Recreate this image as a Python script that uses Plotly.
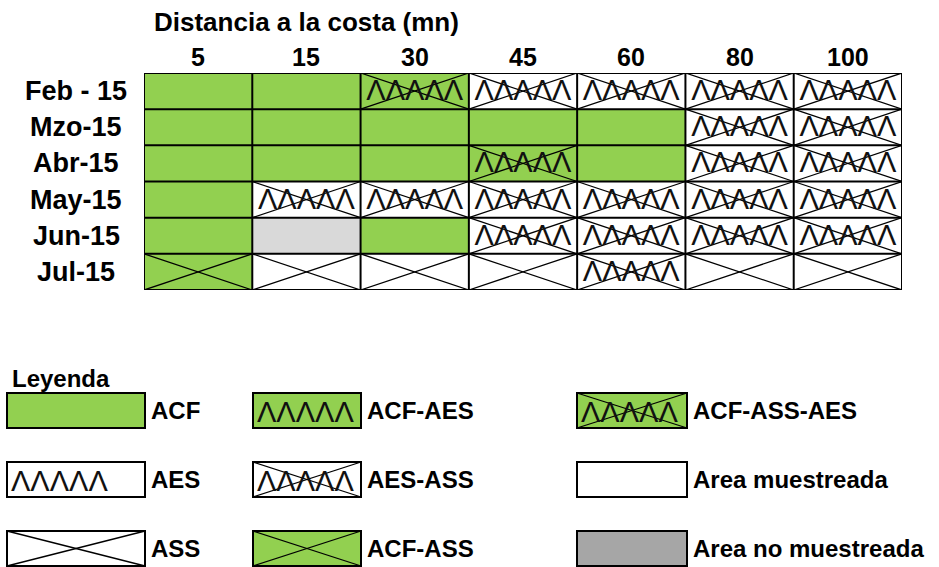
import plotly.graph_objects as go

W, H = 939, 567

# --- datos ---
distancias = ["5", "15", "30", "45", "60", "80", "100"]
meses = ["Feb - 15", "Mzo-15", "Abr-15", "May-15", "Jun-15", "Jul-15"]

feb = ["ACF", "ACF", "ACF-ASS-AES", "AES-ASS", "AES-ASS", "AES-ASS", "AES-ASS"]
mzo = ["ACF", "ACF", "ACF", "ACF", "ACF", "AES-ASS", "AES-ASS"]
abr = ["ACF", "ACF", "ACF", "ACF-ASS-AES", "ACF", "AES-ASS", "AES-ASS"]
may = ["ACF", "AES-ASS", "AES-ASS", "AES-ASS", "AES-ASS", "AES-ASS", "AES-ASS"]
jun = ["ACF", "Area no muestreada", "ACF", "AES-ASS", "AES-ASS", "AES-ASS", "AES-ASS"]
jul = ["ACF-ASS", "ASS", "ASS", "ASS", "AES-ASS", "ASS", "ASS"]
celdas = [feb, mzo, abr, may, jun, jul]

leyenda = [
    ["ACF", "ACF-AES", "ACF-ASS-AES"],
    ["AES", "AES-ASS", "Area muestreada"],
    ["ASS", "ACF-ASS", "Area no muestreada"],
]

# --- estilos ---
VERDE = "#92D050"
GRIS_CELDA = "#D9D9D9"
GRIS_LEY = "#A6A6A6"
LAMBDA = "ΛΛΛΛΛ"
FONT = "Liberation Sans, Arial, sans-serif"

# categoria -> (relleno, cruz, lambdas)
estilo = {
    "ACF": (VERDE, False, False),
    "ACF-AES": (VERDE, False, True),
    "ACF-ASS-AES": (VERDE, True, True),
    "AES": ("white", False, True),
    "AES-ASS": ("white", True, True),
    "Area muestreada": ("white", False, False),
    "ASS": ("white", True, False),
    "ACF-ASS": (VERDE, True, False),
    "Area no muestreada": (GRIS_LEY, False, False),
}


def px_x(v):
    return v / W


def px_y(v):
    return 1 - v / H


fig = go.Figure()

# rellenos de la grilla
codigo = {"white": 0, VERDE: 1, GRIS_LEY: 2}
z = [[codigo[estilo[c][0]] for c in fila] for fila in celdas]
fig.add_trace(go.Heatmap(
    z=z, x=list(range(len(distancias))), y=list(range(len(meses))),
    colorscale=[[0, "white"], [0.5, VERDE], [1, GRIS_CELDA]],
    zmin=0, zmax=2, showscale=False, hoverinfo="skip",
))

# cruces (ASS)
cx, cy = [], []
for r, fila in enumerate(celdas):
    for c, cat in enumerate(fila):
        if estilo[cat][1]:
            cx += [c - 0.5, c + 0.5, None, c - 0.5, c + 0.5, None]
            cy += [r - 0.5, r + 0.5, None, r + 0.5, r - 0.5, None]
fig.add_trace(go.Scatter(x=cx, y=cy, mode="lines",
                         line=dict(color="black", width=1.3),
                         hoverinfo="skip", showlegend=False))

# lambdas (AES)
lx, ly = [], []
for r, fila in enumerate(celdas):
    for c, cat in enumerate(fila):
        if estilo[cat][2]:
            lx.append(c)
            ly.append(r + 0.05)
fig.add_trace(go.Scatter(x=lx, y=ly, mode="text", text=[LAMBDA] * len(lx),
                         textfont=dict(family=FONT, size=29, color="#111111"),
                         hoverinfo="skip", showlegend=False))

# lineas de la grilla
shapes = []
nc, nr = len(distancias), len(meses)
for i in range(nc + 1):
    shapes.append(dict(type="line", xref="x", yref="y", x0=i - 0.5, x1=i - 0.5,
                       y0=-0.5, y1=nr - 0.5, line=dict(color="black", width=2)))
for j in range(nr + 1):
    shapes.append(dict(type="line", xref="x", yref="y", x0=-0.5, x1=nc - 0.5,
                       y0=j - 0.5, y1=j - 0.5, line=dict(color="black", width=2)))

bold = dict(family=FONT, size=25, color="black", weight="bold")
annotations = [dict(text="Distancia a la costa (mn)", xref="paper", yref="paper",
                    x=px_x(152), y=px_y(22), xanchor="left", yanchor="middle",
                    showarrow=False, font=dict(bold, size=26))]
for c, d in enumerate(distancias):
    annotations.append(dict(text=d, xref="x", yref="paper", x=c, y=px_y(57),
                            yanchor="middle", showarrow=False, font=bold))
for r, m in enumerate(meses):
    annotations.append(dict(text=m, xref="paper", yref="y", x=px_x(76), y=r,
                            xanchor="center", yanchor="middle", showarrow=False,
                            font=dict(bold, size=27)))

# --- leyenda ---
annotations.append(dict(text="Leyenda", xref="paper", yref="paper", x=px_x(10), y=px_y(378),
                        xanchor="left", yanchor="middle", showarrow=False,
                        font=dict(bold, size=24)))
col_x = [7, 253, 577]
col_w = [138, 108, 110]
row_y = [393, 462, 531]
bh = 35
for ri, fila in enumerate(leyenda):
    for ci, cat in enumerate(fila):
        x0, x1 = col_x[ci], col_x[ci] + col_w[ci]
        y0, y1 = row_y[ri], row_y[ri] + bh
        fill, cruz, lam = estilo[cat]
        shapes.append(dict(type="rect", xref="paper", yref="paper",
                           x0=px_x(x0), x1=px_x(x1), y0=px_y(y0), y1=px_y(y1),
                           fillcolor=fill, line=dict(color="black", width=2), layer="below"))
        if cruz:
            for ya, yb in ((y0, y1), (y1, y0)):
                shapes.append(dict(type="line", xref="paper", yref="paper",
                                   x0=px_x(x0), x1=px_x(x1), y0=px_y(ya), y1=px_y(yb),
                                   line=dict(color="black", width=1.3)))
        if lam:
            annotations.append(dict(text=LAMBDA, xref="paper", yref="paper",
                                    x=px_x(x0 + 2), y=px_y((y0 + y1) / 2 + 1),
                                    xanchor="left", yanchor="middle", showarrow=False,
                                    font=dict(family=FONT, size=29, color="#111111")))
        annotations.append(dict(text=cat, xref="paper", yref="paper",
                                x=px_x(x1 + 4), y=px_y((y0 + y1) / 2),
                                xanchor="left", yanchor="middle", showarrow=False,
                                font=dict(bold, size=24)))

fig.update_layout(
    width=W, height=H,
    margin=dict(l=0, r=0, t=0, b=0),
    paper_bgcolor="white", plot_bgcolor="white",
    xaxis=dict(domain=[px_x(144), px_x(902)], range=[-0.5, nc - 0.5],
               visible=False, fixedrange=True),
    yaxis=dict(domain=[px_y(290), px_y(73)], range=[nr - 0.5, -0.5],
               visible=False, fixedrange=True),
    shapes=shapes, annotations=annotations,
    showlegend=False,
)

fig.write_html("out.html", config={"displayModeBar": False},
               post_script="document.body.style.margin='0px';")
